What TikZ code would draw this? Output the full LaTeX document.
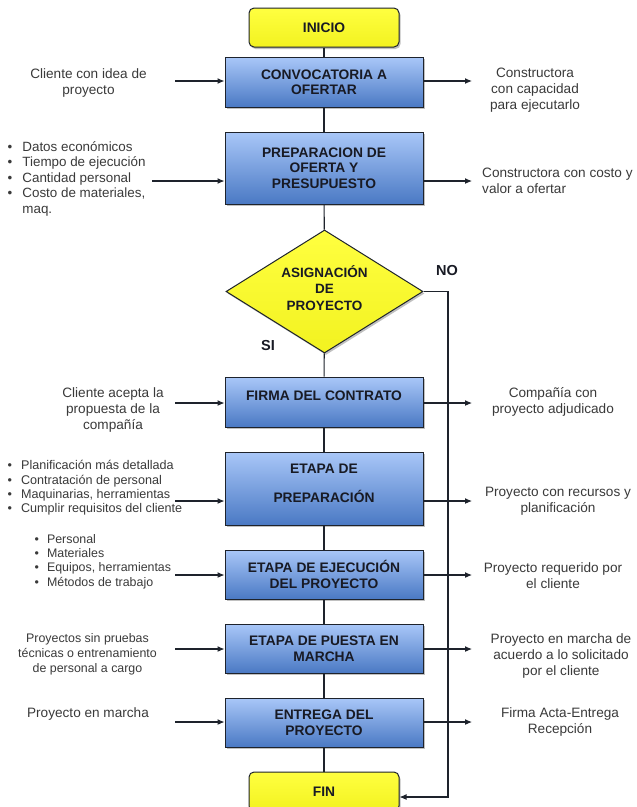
\documentclass[tikz,border=0pt]{standalone}
\usepackage{fontspec}
\setmainfont{Liberation Sans}
\usetikzlibrary{arrows.meta,shapes.geometric,shadows}

\definecolor{boxtop}{HTML}{A9C7F8}
\definecolor{boxbot}{HTML}{4A79C4}
\definecolor{edge}{HTML}{1E232C}
\definecolor{ylwtop}{HTML}{FFFF40}
\definecolor{ylwbot}{HTML}{F2F220}
\definecolor{ink}{HTML}{3A3A3A}
\definecolor{boxink}{HTML}{181A24}

\begin{document}
\begin{tikzpicture}[x=1pt,y=-1pt,
  shade/.style={drop shadow={shadow xshift=1.5pt,shadow yshift=-2pt,opacity=0.35,fill=black!70}},
  stage/.style={shade,draw=edge,line width=1pt,top color=boxtop,bottom color=boxbot,
    minimum width=198pt,inner sep=0pt,align=center,text=boxink,
    font=\fontsize{13.8}{15.5}\selectfont\bfseries},
  terminal/.style={shade,draw=edge,line width=1pt,rounded corners=5pt,
    top color=ylwtop,bottom color=ylwbot,minimum width=150pt,minimum height=39pt,
    inner sep=0pt,text=boxink,font=\fontsize{13.8}{15.5}\selectfont\bfseries},
  decision/.style={shade,diamond,draw=edge,line width=1pt,top color=ylwtop,bottom color=ylwbot,
    minimum width=197pt,minimum height=123pt,inner sep=0pt},
  dectext/.style={align=center,text=boxink,font=\fontsize{13.5}{16.3}\selectfont\bfseries},
  side/.style={align=center,text=ink,inner sep=0pt,font=\fontsize{13.6}{16}\selectfont},
  sidesmall/.style={align=left,text=ink,inner sep=0pt},
  branch/.style={text=boxink,font=\fontsize{14.5}{16}\selectfont\bfseries},
  link/.style={draw=edge,line width=1.1pt},
  feed/.style={draw=edge,line width=1.1pt,-{Latex[length=7pt,width=6pt]}}
]
\clip (0,0) rectangle (637,807);
\fill[white] (0,0) rectangle (637,807);

% terminals, process stages and the decision
\node[terminal] (inicio) at (324,27.5) {INICIO};
\node[stage,minimum height=50pt] (conv) at (324,82) {CONVOCATORIA A\\OFERTAR};
\node[stage,minimum height=72pt] (prep) at (324,168) {PREPARACION DE\\OFERTA Y\\PRESUPUESTO};
\node[decision] (dec) at (324.5,291.5) {};
\node[dectext] (decT) at (324.5,288) {ASIGNACIÓN\\DE\\PROYECTO};
\node[stage,minimum height=50pt,text depth=12pt] (firma) at (324,402) {FIRMA DEL CONTRATO};
\node[stage,minimum height=73pt,text depth=10pt] (etprep) at (324,488.5) {ETAPA DE\\[13.5pt]PREPARACIÓN};
\node[stage,minimum height=49pt] (ejec) at (324,574.5) {ETAPA DE EJECUCIÓN\\DEL PROYECTO};
\node[stage,minimum height=49pt] (puesta) at (324,648.5) {ETAPA DE PUESTA EN\\MARCHA};
\node[stage,minimum height=49pt] (entrega) at (324,722.5) {ENTREGA DEL\\PROYECTO};
\node[terminal] (fin) at (324,791.5) {FIN};

% main flow
\draw[link] (inicio) -- (conv);
\draw[link] (conv) -- (prep);
\draw[link] (prep) -- (dec);
\draw[link] (dec) -- (firma);
\draw[link] (firma) -- (etprep);
\draw[link] (etprep) -- (ejec);
\draw[link] (ejec) -- (puesta);
\draw[link] (puesta) -- (entrega);
\draw[link] (entrega) -- (fin);

% rejected branch runs down to FIN
\coordinate (noTurn) at (448,291.5);
\coordinate (noDown) at (448,797);
\draw[feed] (dec.east) -- (noTurn) -- (noDown) -- (fin.east |- noDown);
\node[branch] (noLbl) at (447,271) {NO};
\node[branch] (siLbl) at (268,346) {SI};

% inputs (left) and outputs (right) of each stage
\coordinate (in1) at (175,81);   \coordinate (out1) at (472,81);
\coordinate (in2) at (152,181);  \coordinate (out2) at (472,181);
\coordinate (in3) at (175,403);  \coordinate (out3) at (472,403);
\coordinate (in4) at (175,501);  \coordinate (out4) at (472,501);
\coordinate (in5) at (175,575);  \coordinate (out5) at (472,575);
\coordinate (in6) at (175,649);  \coordinate (out6) at (472,649);
\coordinate (in7) at (175,722);  \coordinate (out7) at (472,722);

\draw[feed] (in1) -- (in1 -| conv.west);     \draw[feed] (out1 -| conv.east) -- (out1);
\draw[feed] (in2) -- (in2 -| prep.west);     \draw[feed] (out2 -| prep.east) -- (out2);
\draw[feed] (in3) -- (in3 -| firma.west);    \draw[feed] (out3 -| firma.east) -- (out3);
\draw[feed] (in4) -- (in4 -| etprep.west);   \draw[feed] (out4 -| etprep.east) -- (out4);
\draw[feed] (in5) -- (in5 -| ejec.west);     \draw[feed] (out5 -| ejec.east) -- (out5);
\draw[feed] (in6) -- (in6 -| puesta.west);   \draw[feed] (out6 -| puesta.east) -- (out6);
\draw[feed] (in7) -- (in7 -| entrega.west);  \draw[feed] (out7 -| entrega.east) -- (out7);

% side texts
\node[side] (inT1) at (88.5,82.5) {Cliente con idea de\\proyecto};
\node[side] (outT1) at (535,90) {Constructora\\con capacidad\\para ejecutarlo};

\node[sidesmall,anchor=west] (inT2) at (7.5,179)
  {\fontsize{13.4}{15.5}\selectfont\begin{tabular}{@{}l@{\hspace{10pt}}l@{}}
   •&Datos económicos\\ •&Tiempo de ejecución\\ •&Cantidad personal\\
   •&Costo de materiales,\\ &maq.\end{tabular}};
\node[side,anchor=west,align=left] (outT2) at (482,181) {Constructora con costo y\\valor a ofertar};

\node[side] (inT3) at (113,410) {Cliente acepta la\\propuesta de la\\compañía};
\node[side] (outT3) at (553,402) {Compañía con\\proyecto adjudicado};

\node[sidesmall,anchor=west] (inT4) at (7.5,488.5)
  {\fontsize{12.6}{14.4}\selectfont\begin{tabular}{@{}l@{\hspace{9pt}}l@{}}
   •&Planificación más detallada\\ •&Contratación de personal\\
   •&Maquinarias, herramientas\\ •&Cumplir requisitos del cliente\end{tabular}};
\node[side] (outT4) at (558,501.5) {Proyecto con recursos y\\planificación};

\node[sidesmall,anchor=west] (inT5) at (34.5,562)
  {\fontsize{12.4}{14.2}\selectfont\begin{tabular}{@{}l@{\hspace{8pt}}l@{}}
   •&Personal\\ •&Materiales\\ •&Equipos, herramientas\\ •&Métodos de trabajo\end{tabular}};
\node[side] (outT5) at (553,575.5) {Proyecto requerido por\\el cliente};

\node[side,font=\fontsize{12.4}{14.8}\selectfont] (inT6) at (87.5,654.5) {Proyectos sin pruebas\\técnicas o entrenamiento\\de personal a cargo};
\node[side] (outT6) at (561,655.5) {Proyecto en marcha de\\acuerdo a lo solicitado\\por el cliente};

\node[side] (inT7) at (88,714) {Proyecto en marcha};
\node[side] (outT7) at (560,722) {Firma Acta-Entrega\\Recepción};
\end{tikzpicture}
\end{document}
